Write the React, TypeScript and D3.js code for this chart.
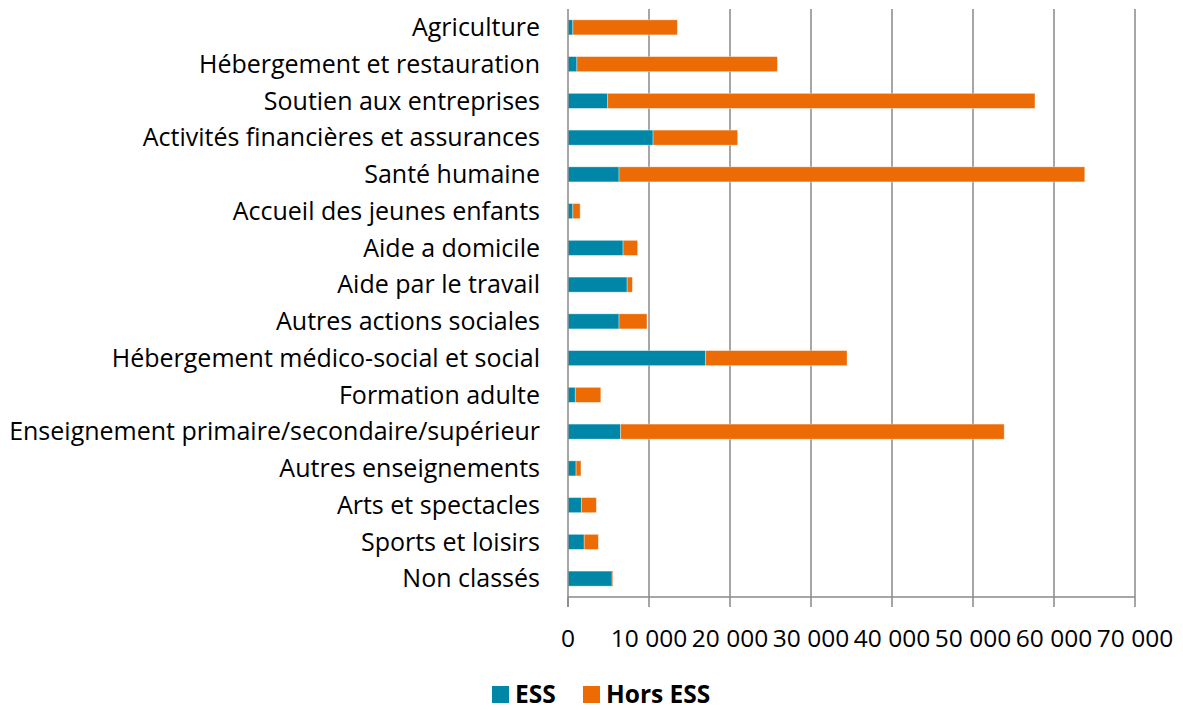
import React from 'react';
import * as d3 from 'd3';

const categories = [
  'Agriculture',
  'Hébergement et restauration',
  'Soutien aux entreprises',
  'Activités financières et assurances',
  'Santé humaine',
  'Accueil des jeunes enfants',
  'Aide a domicile',
  'Aide par le travail',
  'Autres actions sociales',
  'Hébergement médico-social et social',
  'Formation adulte',
  'Enseignement primaire/secondaire/supérieur',
  'Autres enseignements',
  'Arts et spectacles',
  'Sports et loisirs',
  'Non classés',
];

const essValues = [600, 1100, 4900, 10500, 6300, 600, 6800, 7300, 6300, 17000, 900, 6500, 1000, 1650, 2000, 5450];
const horsEssValues = [12900, 24750, 52750, 10450, 57500, 900, 1800, 650, 3450, 17450, 3150, 47350, 600, 1850, 1750, 100];

const xTicks = [0, 10000, 20000, 30000, 40000, 50000, 60000, 70000];

const seriesNames = ['ESS', 'Hors ESS'];
const colors = ['#0087A8', '#EC6B05'];

const W = 1183;
const H = 710;
const margin = { top: 9, right: 48, bottom: 113, left: 568 };
const FONT = '"Open Sans", "Noto Sans", sans-serif';

export default function App() {
  const innerW = W - margin.left - margin.right;
  const innerH = H - margin.top - margin.bottom;

  const x = d3.scaleLinear().domain([0, 70000]).range([0, innerW]);
  const y = d3.scaleBand<string>().domain(categories).range([0, innerH]).paddingInner(0.59).paddingOuter(0.295);

  const rows = categories.map((c, i) => ({ cat: c, ESS: essValues[i], 'Hors ESS': horsEssValues[i] }));
  const stacked = d3.stack<any>().keys(seriesNames)(rows);

  const fmt = (v: number) => d3.format(',')(v).replace(/,/g, ' ');

  return (
    <svg width={W} height={H} style={{ position: 'absolute', left: 0, top: 0, background: '#fff' }}>
      <g transform={`translate(${margin.left},${margin.top})`} fontFamily={FONT}>
        {/* gridlines */}
        {xTicks.slice(1).map(t => (
          <line key={t} x1={x(t)} x2={x(t)} y1={0} y2={innerH} stroke="#898989" strokeWidth={1.5} />
        ))}
        {/* bars */}
        {stacked.map((s, si) => (
          <g key={s.key}>
            {s.map((d, i) => (
              <rect
                key={i}
                x={x(d[0])}
                y={y(categories[i])!}
                width={Math.max(0, x(d[1]) - x(d[0]))}
                height={y.bandwidth()}
                fill={colors[si]}
                stroke="rgba(255,255,255,0.45)"
                strokeWidth={0.8}
              />
            ))}
          </g>
        ))}
        {/* y axis line */}
        <line x1={0} x2={0} y1={0} y2={innerH + 10} stroke="#898989" strokeWidth={1.5} />
        {/* x axis */}
        <line x1={0} x2={innerW} y1={innerH} y2={innerH} stroke="#898989" strokeWidth={1.5} />
        {xTicks.map(t => (
          <g key={t}>
            <line x1={x(t)} x2={x(t)} y1={innerH} y2={innerH + 10} stroke="#898989" strokeWidth={1.5} />
            <text x={x(t)} y={innerH + 50} textAnchor="middle" fontSize={24.5} fill="#000">
              {fmt(t)}
            </text>
          </g>
        ))}
        {/* category labels */}
        {categories.map(c => (
          <text key={c} x={-28} y={y(c)! + y.bandwidth() / 2} dy="0.35em" textAnchor="end" fontSize={25} fill="#000">
            {c}
          </text>
        ))}
      </g>
      {/* legend */}
      <g fontFamily={FONT} fontWeight="bold" fontSize={24.5}>
        <rect x={492} y={686} width={17} height={17} fill={colors[0]} />
        <text x={515} y={703} fill="#000">{seriesNames[0]}</text>
        <rect x={583} y={686} width={17} height={17} fill={colors[1]} />
        <text x={606} y={703} fill="#000">{seriesNames[1]}</text>
      </g>
    </svg>
  );
}
